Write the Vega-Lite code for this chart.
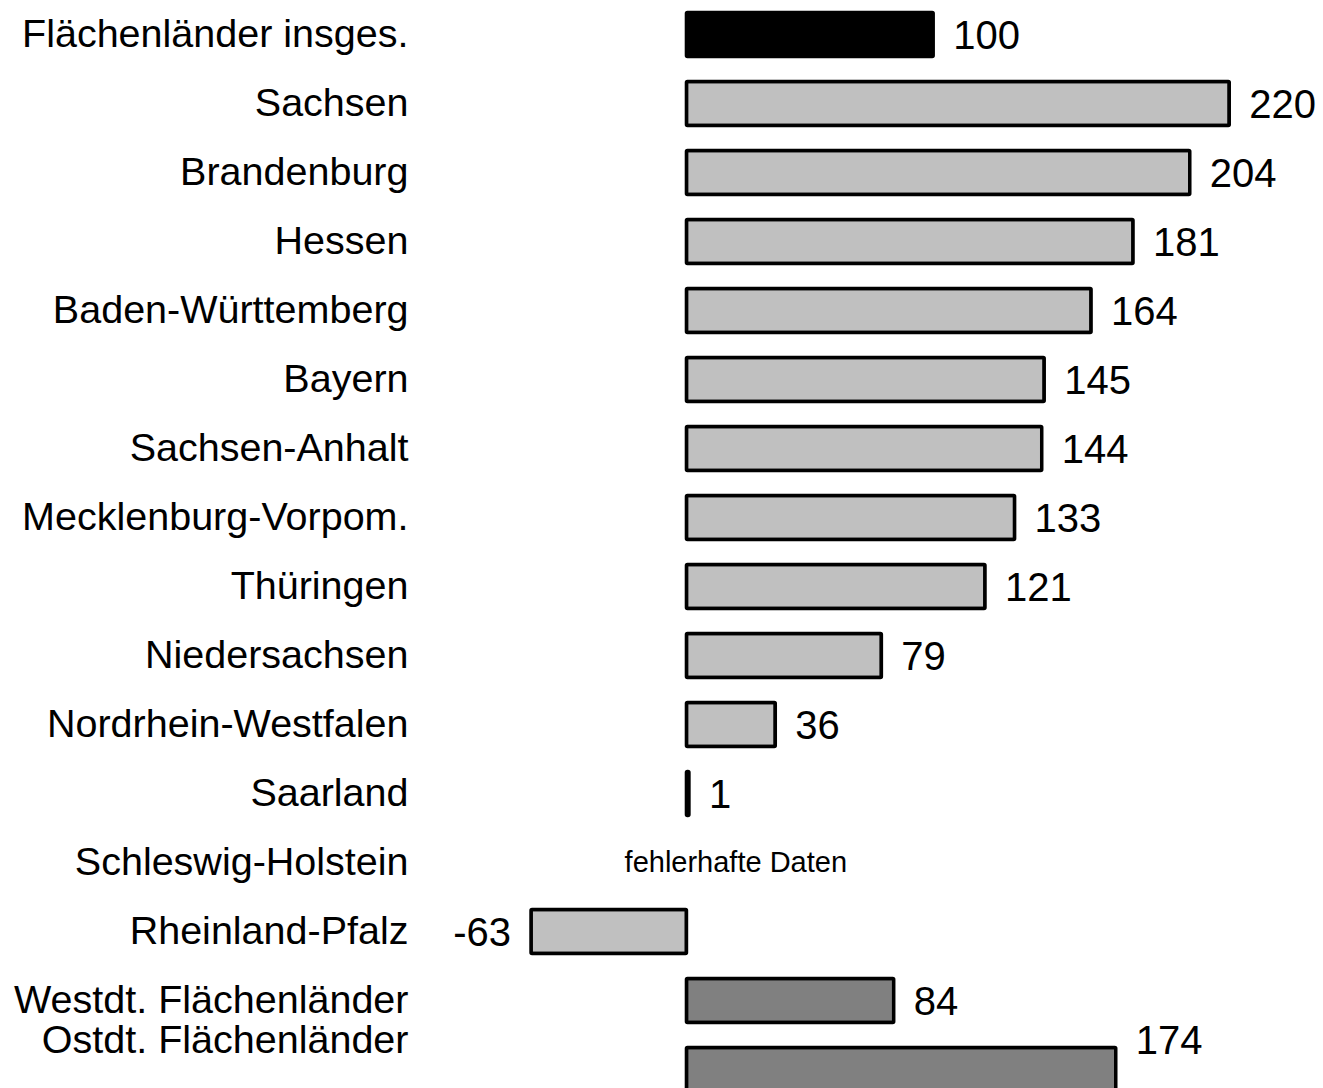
{
  "$schema": "https://vega.github.io/schema/vega-lite/v6.json",
  "width": 903,
  "height": 1104,
  "autosize": "none",
  "padding": {"left": 420, "top": 0, "right": 0, "bottom": 0},
  "background": "white",
  "config": {"view": {"stroke": null}, "font": "Liberation Sans"},
  "data": {
    "values": [
      {"land": "Flächenländer insges.", "wert": 100, "gruppe": "gesamt", "hinweis": null},
      {"land": "Sachsen", "wert": 220, "gruppe": "land", "hinweis": null},
      {"land": "Brandenburg", "wert": 204, "gruppe": "land", "hinweis": null},
      {"land": "Hessen", "wert": 181, "gruppe": "land", "hinweis": null},
      {"land": "Baden-Württemberg", "wert": 164, "gruppe": "land", "hinweis": null},
      {"land": "Bayern", "wert": 145, "gruppe": "land", "hinweis": null},
      {"land": "Sachsen-Anhalt", "wert": 144, "gruppe": "land", "hinweis": null},
      {"land": "Mecklenburg-Vorpom.", "wert": 133, "gruppe": "land", "hinweis": null},
      {"land": "Thüringen", "wert": 121, "gruppe": "land", "hinweis": null},
      {"land": "Niedersachsen", "wert": 79, "gruppe": "land", "hinweis": null},
      {"land": "Nordrhein-Westfalen", "wert": 36, "gruppe": "land", "hinweis": null},
      {"land": "Saarland", "wert": 1, "gruppe": "land", "hinweis": null},
      {"land": "Schleswig-Holstein", "wert": null, "gruppe": "land", "hinweis": "fehlerhafte Daten"},
      {"land": "Rheinland-Pfalz", "wert": -63, "gruppe": "land", "hinweis": null},
      {"land": "Westdt. Flächenländer", "wert": 84, "gruppe": "ost-west", "hinweis": null},
      {"land": "Ostdt. Flächenländer", "wert": 174, "gruppe": "ost-west", "hinweis": null}
    ]
  },
  "encoding": {
    "y": {
      "field": "land",
      "type": "nominal",
      "sort": null,
      "scale": {
        "domain": ["Flächenländer insges.", "Sachsen", "Brandenburg", "Hessen", "Baden-Württemberg", "Bayern", "Sachsen-Anhalt", "Mecklenburg-Vorpom.", "Thüringen", "Niedersachsen", "Nordrhein-Westfalen", "Saarland", "Schleswig-Holstein", "Rheinland-Pfalz", "Westdt. Flächenländer", "Ostdt. Flächenländer"],
        "paddingInner": 0.36,
        "paddingOuter": 0.18
      },
      "axis": {
        "title": null,
        "ticks": false,
        "domain": false,
        "grid": false,
        "labelFont": "Liberation Sans",
        "labelFontSize": 39.5,
        "labelPadding": 12,
        "labelColor": "black",
        "labelLimit": 0,
        "labelOffset": {"condition": {"test": "datum.value === 'Ostdt. Flächenländer'", "value": -29}, "value": 0}
      }
    }
  },
  "layer": [
    {
      "mark": {"type": "bar", "stroke": "black", "strokeWidth": 3.5, "cornerRadius": 1},
      "encoding": {
        "x": {"field": "wert", "type": "quantitative", "scale": {"domain": [-108, 258], "nice": false, "zero": false}, "axis": null},
        "color": {
          "field": "gruppe",
          "type": "nominal",
          "scale": {"domain": ["gesamt", "land", "ost-west"], "range": ["#000000", "#c0c0c0", "#808080"]},
          "legend": null
        }
      }
    },
    {
      "transform": [{"filter": "datum.wert != null && datum.wert >= 0 && datum.land !== 'Ostdt. Flächenländer'"}],
      "mark": {"type": "text", "align": "left", "baseline": "middle", "dx": 20, "dy": 2, "fontSize": 40, "color": "black"},
      "encoding": {
        "x": {"field": "wert", "type": "quantitative"},
        "text": {"field": "wert", "type": "nominal"}
      }
    },
    {
      "transform": [{"filter": "datum.land === 'Ostdt. Flächenländer'"}],
      "mark": {"type": "text", "align": "left", "baseline": "middle", "dx": 20, "dy": -28, "fontSize": 40, "color": "black"},
      "encoding": {
        "x": {"field": "wert", "type": "quantitative"},
        "text": {"field": "wert", "type": "nominal"}
      }
    },
    {
      "transform": [{"filter": "datum.wert != null && datum.wert < 0"}],
      "mark": {"type": "text", "align": "right", "baseline": "middle", "dx": -20, "dy": 2, "fontSize": 40, "color": "black"},
      "encoding": {
        "x": {"field": "wert", "type": "quantitative"},
        "text": {"field": "wert", "type": "nominal"}
      }
    },
    {
      "transform": [{"filter": "datum.hinweis != null"}],
      "mark": {"type": "text", "align": "center", "baseline": "middle", "fontSize": 29, "color": "black"},
      "encoding": {
        "x": {"datum": 20},
        "text": {"field": "hinweis"}
      }
    }
  ]
}
